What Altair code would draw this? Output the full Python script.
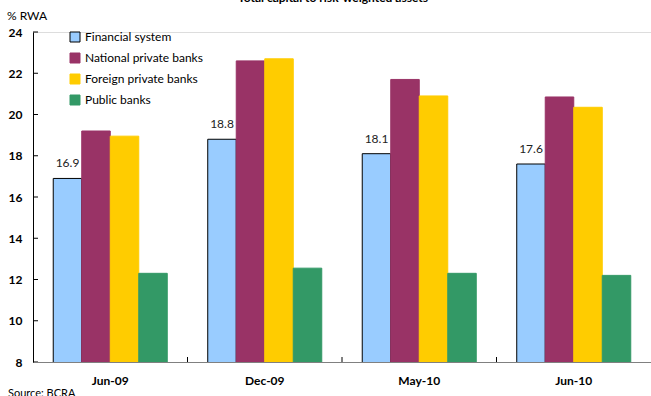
import altair as alt
import pandas as pd

dates = ["Jun-09", "Dec-09", "May-10", "Jun-10"]
series = ["Financial system", "National private banks", "Foreign private banks", "Public banks"]
financial = [16.9, 18.8, 18.1, 17.6]
national = [19.2, 22.6, 21.7, 20.85]
foreign = [18.95, 22.7, 20.9, 20.35]
public = [12.3, 12.55, 12.3, 12.2]
fill_colors = ["#99CCFF", "#993366", "#FFCC00", "#339966"]
stroke_colors = ["#000000", "#993366", "#FFCC00", "#339966"]
y_ticks = [8, 10, 12, 14, 16, 18, 20, 22, 24]

FONT = "Lato"

rows = []
for s, vals in zip(series, [financial, national, foreign, public]):
    for d, v in zip(dates, vals):
        rows.append({"date": d, "series": s, "value": v})
df = pd.DataFrame(rows)
fs_df = df[df["series"] == "Financial system"].copy()
fs_df["label"] = fs_df["value"].map(lambda v: f"{v:.1f}")

x_scale = alt.Scale(domain=dates, paddingInner=0, paddingOuter=0)
x_axis = alt.Axis(title=None, labelAngle=0, ticks=False, domainColor="#808080",
                  labelFontWeight="bold", labelFontSize=12, labelPadding=13,
                  labelColor="#000", labelFont=FONT, zindex=1)
y_scale = alt.Scale(domain=[8, 24], zero=False, nice=False)
y_axis = alt.Axis(title=None, values=y_ticks, ticks=False, grid=False,
                  domainColor="#000", labelFontWeight="bold", labelFontSize=12,
                  labelPadding=11, labelColor="#000", labelFont=FONT, zindex=1)
xoff = alt.XOffset("series:N", sort=series,
                   scale=alt.Scale(domain=series, paddingInner=0, paddingOuter=0.71))

bars = alt.Chart(df).mark_bar(strokeWidth=1, clip=True).encode(
    x=alt.X("date:N", sort=dates, scale=x_scale, axis=x_axis),
    xOffset=xoff,
    y=alt.Y("value:Q", scale=y_scale, axis=y_axis),
    fill=alt.Fill("series:N", sort=series,
                  scale=alt.Scale(domain=series, range=fill_colors),
                  legend=alt.Legend(title=None, orient="none", legendX=36, legendY=-1,
                                    symbolType="square", symbolSize=100,
                                    labelFontSize=12, labelFont=FONT, labelColor="#000",
                                    rowPadding=7, labelOffset=4, symbolStrokeWidth=1)),
    stroke=alt.Stroke("series:N", sort=series,
                      scale=alt.Scale(domain=series, range=stroke_colors),
                      legend=None),
)

labels = alt.Chart(fs_df).mark_text(baseline="alphabetic", dy=-11, fontSize=12,
                                    font=FONT, color="#222").encode(
    x=alt.X("date:N", sort=dates, scale=x_scale, axis=x_axis),
    xOffset=xoff,
    y=alt.Y("value:Q", scale=y_scale, axis=y_axis),
    text="label:N",
)

ytick_df = pd.DataFrame({"v": y_ticks})
yticks = alt.Chart(ytick_df).mark_rule(color="#000", strokeWidth=1).encode(
    x=alt.value(0), x2=alt.value(5), y=alt.Y("v:Q", scale=y_scale, axis=y_axis),
)

xtick_df = pd.DataFrame({"date": dates[1:]})
xticks = alt.Chart(xtick_df).mark_rule(color="#000", strokeWidth=1).encode(
    x=alt.X("date:N", sort=dates, scale=x_scale, axis=x_axis, bandPosition=0),
    y=alt.value(325), y2=alt.value(330),
)

ann_df = pd.DataFrame({
    "t": ["% RWA", "Source: BCRA", "Total capital to risk-weighted assets"],
})
ann1 = alt.Chart(ann_df.iloc[[0]]).mark_text(align="left", baseline="alphabetic", fontSize=12,
                                             font=FONT, color="#000").encode(
    x=alt.value(-26), y=alt.value(-12), text="t:N")
ann2 = alt.Chart(ann_df.iloc[[1]]).mark_text(align="left", baseline="alphabetic", fontSize=11,
                                             font=FONT, color="#000").encode(
    x=alt.value(-25), y=alt.value(365), text="t:N")
ann3 = alt.Chart(ann_df.iloc[[2]]).mark_text(align="center", baseline="alphabetic", fontSize=12,
                                             font=FONT, color="#000", fontWeight="bold").encode(
    x=alt.value(300), y=alt.value(-30), text="t:N")

chart = alt.layer(bars, labels, yticks, xticks, ann1, ann2, ann3).properties(
    width=618, height=330,
    autosize=alt.AutoSizeParams(type="none"),
    padding={"left": 33, "top": 32, "right": 0, "bottom": 34},
).configure_view(stroke=None).configure(font=FONT)

chart.save("out.html", embed_options={"renderer": "svg", "actions": False})
